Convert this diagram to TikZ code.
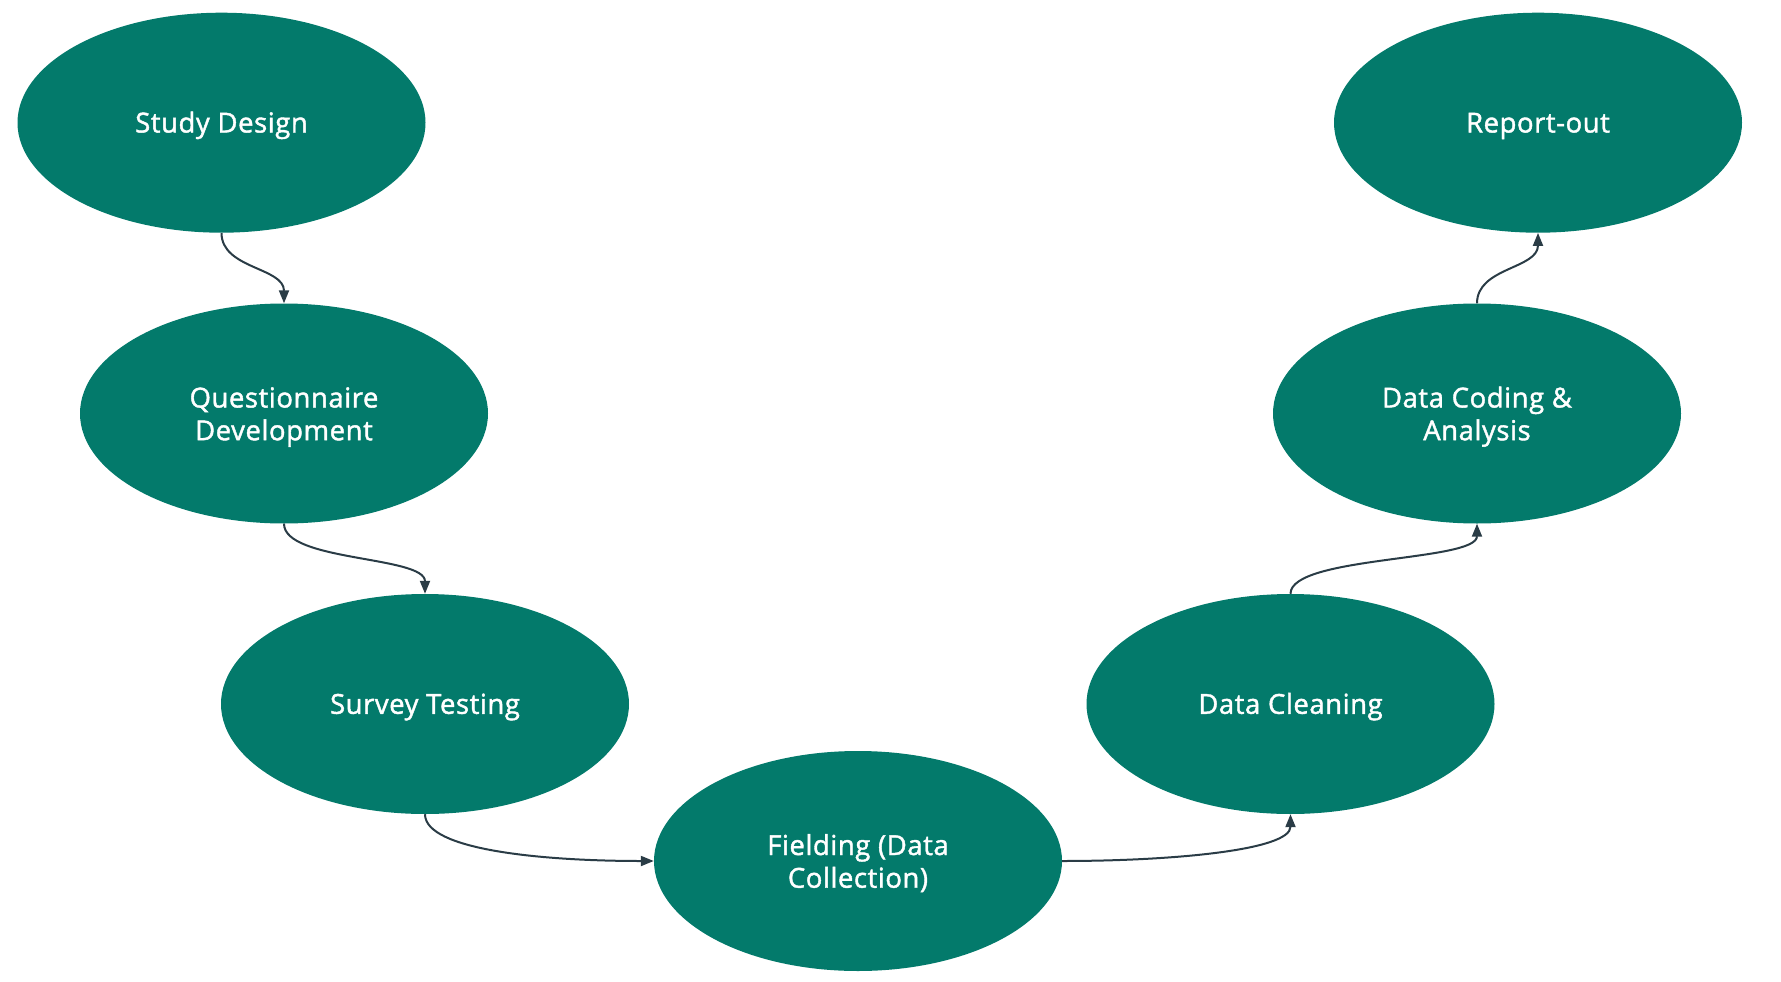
\documentclass[tikz,border=0pt]{standalone}
\usepackage{fontspec}
\setmainfont{Open Sans}[FakeBold=1.5,LetterSpace=2]
\usetikzlibrary{shapes.geometric,arrows.meta}
\definecolor{stepfill}{RGB}{3,122,107}
\definecolor{linkcol}{RGB}{42,60,70}
\tikzset{
  stepnode/.style={ellipse, fill=stepfill, draw=none, inner sep=0pt,
    minimum width=408pt, minimum height=220pt},
  lbl/.style={text=white, inner sep=0pt, anchor=base,
    font=\fontsize{27.5}{32.7}\selectfont},
  link/.style={draw=linkcol, line width=2pt,
    -{Triangle[length=13pt,width=10pt]}},
}
\begin{document}
\begin{tikzpicture}[x=1pt,y=-1pt]
\useasboundingbox (0,0) rectangle (1781,982);
% ellipses
\node[stepnode] (sd)  at (221.5,122.7) {};
\node[stepnode] (qd)  at (284,413.5) {};
\node[stepnode] (st)  at (425,704) {};
\node[stepnode] (fld) at (858,861) {};
\node[stepnode] (dc)  at (1290.5,704) {};
\node[stepnode] (dca) at (1477,413.5) {};
\node[stepnode] (ro)  at (1538,122.7) {};
% labels
\node[lbl] (sdt)  at ([yshift=-9.8pt]sd.center) {Study Design};
\node[lbl] (qdt1) at ([yshift=6pt]qd.center) {Questionnaire};
\node[lbl] (qdt2) at ([yshift=-26.7pt]qd.center) {Development};
\node[lbl] (stt)  at ([yshift=-9.8pt]st.center) {Survey Testing};
\node[lbl] (fldt1) at ([yshift=6pt]fld.center) {Fielding (Data};
\node[lbl] (fldt2) at ([yshift=-26.7pt]fld.center) {Collection)};
\node[lbl] (dct)  at ([yshift=-9.8pt]dc.center) {Data Cleaning};
\node[lbl] (dcat1) at ([yshift=6pt]dca.center) {Data Coding \&};
\node[lbl] (dcat2) at ([yshift=-26.7pt]dca.center) {Analysis};
\node[lbl] (rot)  at ([yshift=-9.8pt]ro.center) {Report-out};
% connectors
\draw[link] (sd.south) .. controls ([yshift=-36pt]sd.south) and ([yshift=36pt]qd.north) .. (qd.north);
\draw[link] (qd.south) .. controls ([yshift=-38pt]qd.south) and ([yshift=38pt]st.north) .. (st.north);
\draw[link] (st.south) .. controls ([yshift=-36pt]st.south) and ([xshift=-110pt]fld.west) .. (fld.west);
\draw[link] (fld.east) .. controls ([xshift=110pt]fld.east) and ([yshift=-36pt]dc.south) .. (dc.south);
\draw[link] (dc.north) .. controls ([yshift=38pt]dc.north) and ([yshift=-38pt]dca.south) .. (dca.south);
\draw[link] (dca.north) .. controls ([yshift=36pt]dca.north) and ([yshift=-36pt]ro.south) .. (ro.south);
\end{tikzpicture}
\end{document}
